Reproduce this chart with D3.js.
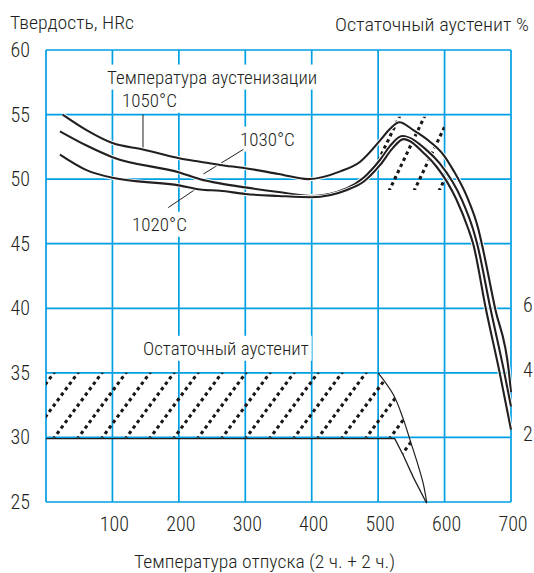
<!DOCTYPE html>
<html>
<head>
<meta charset="utf-8">
<script src="https://cdn.jsdelivr.net/npm/d3@7"></script>
<style>
  body { margin: 0; background: #fff; }
  text { font-family: "Roboto Condensed", "Liberation Sans Narrow", "Liberation Sans", sans-serif; font-weight: 300; fill: #231f20; }
</style>
</head>
<body>
<svg id="chart" width="534" height="573"></svg>
<script>
const width = 534;
const height = 573;
const blue = "#009fe3";

// axis ticks
const xTicks = [100, 200, 300, 400, 500, 600, 700];
const yTicks = [25, 30, 35, 40, 45, 50, 55, 60];
const rightTicks = [2, 4, 6];

// hardness curves (temper temperature, HRc)
const temp1050 = [25, 61, 100, 146, 202, 232, 262, 300, 350, 395, 443, 473, 503, 518, 532, 553, 578, 598, 613, 634, 651, 656, 676, 697, 700];
const hrc1050  = [55.0, 53.8, 52.8, 52.3, 51.6, 51.35, 51.1, 50.85, 50.4, 50.0, 50.6, 51.35, 53.0, 53.9, 54.4, 53.8, 52.9, 51.9, 50.7, 48.6, 46.1, 45.0, 40.0, 35.0, 33.5];

const temp1030 = [21, 61, 100, 202, 232, 262, 300, 350, 400, 453, 478, 503, 520, 536, 573, 593, 626, 643, 649, 669, 690, 700];
const hrc1030  = [53.7, 52.6, 51.7, 50.5, 50.0, 49.67, 49.36, 49.0, 48.7, 49.3, 50.1, 51.5, 52.7, 53.34, 52.25, 51.2, 48.4, 46.1, 45.0, 40.0, 35.0, 32.4];

const temp1020 = [21, 61, 100, 202, 232, 262, 300, 350, 400, 453, 478, 503, 522, 538, 571, 588, 618, 636, 643, 662, 683, 700];
const hrc1020  = [51.9, 50.7, 50.1, 49.5, 49.2, 49.1, 48.85, 48.7, 48.6, 49.16, 49.8, 51.1, 52.4, 53.1, 51.9, 50.96, 48.4, 46.1, 45.0, 40.0, 35.0, 30.6];

const series = [
  { name: "1050°C", temps: temp1050, values: hrc1050 },
  { name: "1030°C", temps: temp1030, values: hrc1030 },
  { name: "1020°C", temps: temp1020, values: hrc1020 }
];

// retained austenite band: upper and lower edges (temperature, HRc scale)
const austUpperT = [0, 500, 523, 538, 548, 558, 568, 573];
const austUpperV = [35, 35, 33.3, 31.4, 29.8, 28.2, 26.4, 25.0];
const austLowerT = [573, 553, 538, 525, 0];
const austLowerV = [25.0, 27.0, 28.7, 30, 30];

// scatter band of hardness near the secondary peak
const peakBandT = [500, 600];
const peakBandV = [49.15, 54.83];

const svg = d3.select("#chart");

const x = d3.scaleLinear().domain([0, 700]).range([46, 511]);
const y = d3.scaleLinear().domain([25, 60]).range([502, 50]);
const yRight = d3.scaleLinear().domain([0, 14]).range([y(25), y(60)]);

// grid
const grid = svg.append("g").attr("stroke", blue).attr("stroke-width", 1.7);
grid.selectAll(".v").data([0, ...xTicks]).enter().append("line")
  .attr("x1", d => x(d)).attr("x2", d => x(d))
  .attr("y1", y(25)).attr("y2", y(60));
grid.selectAll(".h").data(yTicks).enter().append("line")
  .attr("x1", x(0)).attr("x2", x(700))
  .attr("y1", d => y(d)).attr("y2", d => y(d));

// hatching: dotted diagonal lines clipped to a shape
function hatch(id, clipD, slope, spacing, x0, yRef) {
  svg.append("clipPath").attr("id", id).append("path").attr("d", clipD);
  const g = svg.append("g").attr("clip-path", `url(#${id})`)
    .attr("stroke", "#1a1718").attr("stroke-width", 3.1)
    .attr("stroke-dasharray", "3.4,3.4");
  const span = 90;
  g.selectAll("line").data(d3.range(-25, 25)).enter().append("line")
    .attr("x1", k => x0 + k * spacing)
    .attr("y1", yRef - 2)
    .attr("x2", k => x0 + k * spacing - span / slope)
    .attr("y2", yRef - 2 + span);
}

const peakRect = `M${x(peakBandT[0])},${y(peakBandV[1])}H${x(peakBandT[1])}V${y(peakBandV[0])}H${x(peakBandT[0])}Z`;
hatch("peakClip", peakRect, 2.1, 25, x(571), y(peakBandV[1]));

const austPts = austUpperT.map((t, i) => [x(t), y(austUpperV[i])])
  .concat(austLowerT.map((t, i) => [x(t), y(austLowerV[i])]));
hatch("austClip", d3.line()(austPts) + "Z", 1.36, 24, x(86.3), y(35));

// edges of the austenite band
svg.append("path")
  .attr("d", d3.line().curve(d3.curveCatmullRom)(austUpperT.slice(1).map((t, i) => [x(t), y(austUpperV[i + 1])])))
  .attr("fill", "none").attr("stroke", "#231f20").attr("stroke-width", 1.2);
svg.append("path")
  .attr("d", d3.line()(austLowerT.map((t, i) => [x(t), y(austLowerV[i]) + 1.2])))
  .attr("fill", "none").attr("stroke", "#231f20").attr("stroke-width", 1.3);

// labels with white knockout
function label(txt, tx, ty, size) {
  const g = svg.append("g");
  const t = g.append("text").attr("x", tx).attr("y", ty)
    .attr("font-size", size).text(txt);
  const b = t.node().getBBox();
  g.insert("rect", "text")
    .attr("x", b.x - 3).attr("y", b.y - 1)
    .attr("width", b.width + 6).attr("height", b.height + 2)
    .attr("fill", "#fff");
  return t;
}

label("Температура аустенизации", x(92), y(57.4), 19);
label("1050°C", x(114.5), y(55.6), 19);
label("1030°C", x(292), y(52.6), 19);
label("1020°C", x(129.5), y(46.0), 19);
label("Остаточный аустенит", x(146), y(36.4), 19);

// leader lines
const leaders = [
  [[146, 55.0], [146, 52.3]],
  [[297, 52.3], [237, 50.4]],
  [[184, 47.8], [224.5, 49.2]]
];
svg.selectAll(".leader").data(leaders).enter().append("line")
  .attr("x1", d => x(d[0][0])).attr("y1", d => y(d[0][1]))
  .attr("x2", d => x(d[1][0])).attr("y2", d => y(d[1][1]))
  .attr("stroke", "#231f20").attr("stroke-width", 1);

// hardness curves
const line = d3.line()
  .x(d => x(d[0]))
  .y(d => y(d[1]))
  .curve(d3.curveMonotoneX);

series.forEach(s => {
  const pts = s.temps.map((t, i) => [t, s.values[i]]);
  svg.append("path").attr("d", line(pts))
    .attr("fill", "none").attr("stroke", "#fff").attr("stroke-width", 4);
  svg.append("path").attr("d", line(pts))
    .attr("fill", "none").attr("stroke", "#231f20").attr("stroke-width", 2.1);
});

// axis labels
svg.selectAll(".xt").data(xTicks).enter().append("text")
  .attr("x", d => x(d) + 2).attr("y", 531)
  .attr("text-anchor", "middle").attr("font-size", 20).text(d => d);
svg.selectAll(".yt").data(yTicks).enter().append("text")
  .attr("x", 30).attr("y", d => y(d) + 7)
  .attr("text-anchor", "end").attr("font-size", 20).text(d => d);
svg.selectAll(".rt").data(rightTicks).enter().append("text")
  .attr("x", 523).attr("y", d => yRight(d) + 4)
  .attr("font-size", 20).text(d => d);

svg.append("text").attr("x", 10).attr("y", 29).attr("font-size", 19)
  .attr("textLength", 124).attr("lengthAdjust", "spacingAndGlyphs")
  .text("Твердость, HRc");
svg.append("text").attr("x", 335).attr("y", 31).attr("font-size", 19)
  .attr("textLength", 194).attr("lengthAdjust", "spacingAndGlyphs")
  .text("Остаточный аустенит %");
svg.append("text").attr("x", 134).attr("y", 568).attr("font-size", 19)
  .attr("textLength", 261).attr("lengthAdjust", "spacingAndGlyphs")
  .text("Температура отпуска (2 ч. + 2 ч.)");
</script>
</body>
</html>
